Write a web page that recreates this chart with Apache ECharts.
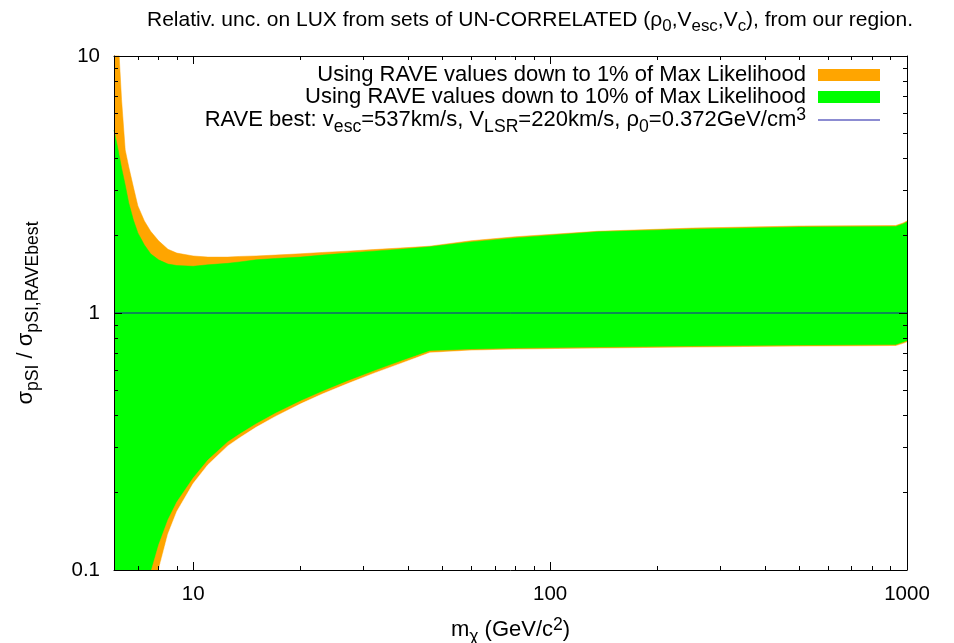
<!DOCTYPE html>
<html><head><meta charset="utf-8">
<script src="https://cdn.jsdelivr.net/npm/echarts@6/dist/echarts.min.js"></script>
<style>html,body{margin:0;padding:0;background:#fff}#c{width:954px;height:643px}</style>
</head><body><div id="c"></div>
<script>
// WIMP mass (GeV/c^2)
const mass = [6.0, 6.15, 6.3, 6.45, 6.6, 6.8, 7.0, 7.3, 7.6, 8.0, 8.5, 9.0, 10, 11, 12.5, 13.5, 15, 17, 20, 23, 27, 32, 38, 42, 46, 60, 80, 136, 250, 500, 930, 975, 1000];
// band edges: 1% of max likelihood (orange) and 10% (green)
const orangeUpper = [18, 12.5, 6.76, 4.31, 3.70, 3.09, 2.61, 2.28, 2.08, 1.91, 1.77, 1.71, 1.667, 1.65, 1.65, 1.66, 1.667, 1.68, 1.70, 1.72, 1.74, 1.765, 1.79, 1.805, 1.82, 1.91, 1.98, 2.08, 2.14, 2.18, 2.19, 2.24, 2.28];
const greenUpper = [5.15, 4.38, 3.67, 3.15, 2.68, 2.30, 2.05, 1.84, 1.70, 1.61, 1.55, 1.53, 1.52, 1.54, 1.56, 1.58, 1.61, 1.63, 1.65, 1.68, 1.71, 1.74, 1.77, 1.79, 1.81, 1.89, 1.96, 2.07, 2.12, 2.16, 2.17, 2.22, 2.26];
const greenLower = [0.0146, 0.018, 0.023, 0.028, 0.034, 0.044, 0.0554, 0.0743, 0.0975, 0.125, 0.157, 0.184, 0.228, 0.268, 0.315, 0.338, 0.370, 0.407, 0.4545, 0.495, 0.542, 0.594, 0.648, 0.680, 0.711, 0.721, 0.728, 0.734, 0.741, 0.747, 0.751, 0.768, 0.778];
const orangeLower = [0.010, 0.0126, 0.016, 0.0196, 0.0238, 0.031, 0.039, 0.052, 0.076, 0.100, 0.138, 0.169, 0.217, 0.257, 0.304, 0.327, 0.359, 0.396, 0.443, 0.484, 0.530, 0.582, 0.635, 0.668, 0.700, 0.714, 0.721, 0.727, 0.734, 0.740, 0.744, 0.760, 0.770];
// best-fit reference line
const bestMass = [6, 1000];
const bestRatio = [1, 1];
// ticks
const xMajorTicks = [10, 100, 1000];
const xMinorTicks = [7, 8, 9, 20, 30, 40, 50, 60, 70, 80, 90, 200, 300, 400, 500, 600, 700, 800, 900];
const yMajorTicks = [0.1, 1, 10];
const yMinorTicks = [0.2, 0.3, 0.4, 0.5, 0.6, 0.7, 0.8, 0.9, 2, 3, 4, 5, 6, 7, 8, 9];

const NAME1 = 'Using RAVE values down to 1% of Max Likelihood';
const NAME2 = 'Using RAVE values down to 10% of Max Likelihood';
const NAME3 = 'RAVE best';
const ORANGE = '#ffa500', GREEN = '#00ff00', BLUE = '#1a1aa6';
const FONT = 'Liberation Sans';
const FS = 22, SFS = 17.6, TFS = 20.5;

function zip(a, b) { return a.map((v, i) => [v, b[i]]); }

function rich(fs, sfs) {
  return {
    a: { fontSize: fs, fontFamily: FONT, fontWeight: 'normal', color: '#000', lineHeight: 28 },
    s: { fontSize: sfs, fontFamily: FONT, fontWeight: 'normal', color: '#000', lineHeight: 14, verticalAlign: 'top', padding: [12, 0, 0, 0] },
    p: { fontSize: sfs, fontFamily: FONT, fontWeight: 'normal', color: '#000', lineHeight: 18, verticalAlign: 'top' },
    g: { fontSize: fs, fontFamily: FONT, width: 7, lineHeight: 28 }
  };
}
const richBase = rich(FS, SFS);
const richTitle = rich(21, 16.9);

const GRID = { left: 114, right: 47, top: 56, bottom: 73, containLabel: false, outerBoundsMode: 'none' };

function xAxis(gridIndex, position, ticks, len, labels, extra) {
  return Object.assign({
    type: 'log', logBase: 10, min: 6, max: 1000, gridIndex, position, z: 10,
    axisLine: { show: true, lineStyle: { color: '#000', width: 1 } },
    axisTick: { show: true, inside: true, length: len, customValues: ticks, lineStyle: { color: '#000', width: 1 } },
    axisLabel: labels ? { show: true, customValues: ticks, margin: 14, fontSize: TFS, fontFamily: FONT, color: '#000',
      formatter: v => String(+v) } : { show: false },
    splitLine: { show: false }, minorTick: { show: false }
  }, extra || {});
}
function yAxis(gridIndex, position, ticks, len, labels, extra) {
  return Object.assign({
    type: 'log', logBase: 10, min: 0.1, max: 10, gridIndex, position, z: 10,
    axisLine: { show: true, lineStyle: { color: '#000', width: 1 } },
    axisTick: { show: true, inside: true, length: len, customValues: ticks, lineStyle: { color: '#000', width: 1 } },
    axisLabel: labels ? { show: true, customValues: ticks, margin: 14, fontSize: TFS, fontFamily: FONT, color: '#000',
      formatter: v => String(+(+v).toPrecision(3)) } : { show: false },
    splitLine: { show: false }, minorTick: { show: false }
  }, extra || {});
}

function legendAt(item, top, formatter) {
  return {
    data: [item], right: 74, top, orient: 'vertical', align: 'right', padding: 0,
    itemWidth: 62, itemHeight: 12, selectedMode: false,
    textStyle: { fontSize: FS, fontFamily: FONT, color: '#000', rich: richBase },
    formatter
  };
}

const chart = echarts.init(document.getElementById('c'), null, { renderer: 'canvas' });
chart.setOption({
  animation: false,
  backgroundColor: '#fff',
  title: {
    text: '{a|Relativ. unc. on LUX from sets of UN-CORRELATED (ρ}{s|0}{a|,V}{s|esc}{a|,V}{s|c}{a|), from our region.}',
    left: 147, top: 6, padding: 0,
    textStyle: { fontWeight: 'normal', rich: richTitle }
  },
  legend: [
    legendAt({ name: NAME1, icon: 'rect', itemStyle: { color: ORANGE } }, 64, n => '{a|' + n + '}{g| }'),
    legendAt({ name: NAME2, icon: 'rect', itemStyle: { color: GREEN } }, 86, n => '{a|' + n + '}{g| }'),
    legendAt({ name: NAME3, icon: 'path://M0,0L0,0M0,5.5L62,5.5L62,6.5L0,6.5ZM62,12L62,12', itemStyle: { color: BLUE, borderWidth: 0 } }, 106,
      () => '{a|RAVE best: v}{s|esc}{a|=537km/s, V}{s|LSR}{a|=220km/s, ρ}{s|0}{a|=0.372GeV/cm}{p|3}{g| }')
  ],
  grid: [Object.assign({}, GRID), Object.assign({}, GRID)],
  xAxis: [
    xAxis(0, 'bottom', xMajorTicks, 8, true, {
      name: '{a|m}{s|χ}{a| (GeV/c}{p|2}{a|)}', nameLocation: 'middle', nameGap: 46,
      nameTextStyle: { rich: richBase }
    }),
    xAxis(0, 'top', xMajorTicks, 8, false),
    xAxis(1, 'bottom', xMinorTicks, 4, false, { axisLine: { show: false } }),
    xAxis(1, 'top', xMinorTicks, 4, false, { axisLine: { show: false } })
  ],
  yAxis: [
    yAxis(0, 'left', yMajorTicks, 8, true, {
      name: '{a|σ}{s|pSI}{a| / σ}{s|pSI,RAVEbest}', nameLocation: 'middle', nameGap: 74, nameRotate: 90,
      nameTextStyle: { rich: richBase }
    }),
    yAxis(0, 'right', yMajorTicks, 8, false),
    yAxis(1, 'left', yMinorTicks, 4, false, { axisLine: { show: false } }),
    yAxis(1, 'right', yMinorTicks, 4, false, { axisLine: { show: false } })
  ],
  series: [
    { name: NAME1, type: 'line', xAxisIndex: 0, yAxisIndex: 0, data: zip(mass, orangeUpper), symbol: 'none',
      color: ORANGE, itemStyle: { color: ORANGE }, lineStyle: { width: 0.5, color: ORANGE }, areaStyle: { color: ORANGE, opacity: 1, origin: 'start' }, clip: true, z: 2 },
    { name: NAME2, type: 'line', xAxisIndex: 0, yAxisIndex: 0, data: zip(mass, greenUpper), symbol: 'none',
      color: GREEN, itemStyle: { color: GREEN }, lineStyle: { width: 0.5, color: GREEN }, areaStyle: { color: GREEN, opacity: 1, origin: 'start' }, clip: true, z: 2 },
    { name: NAME1, type: 'line', xAxisIndex: 0, yAxisIndex: 0, data: zip(mass, greenLower), symbol: 'none',
      color: ORANGE, itemStyle: { color: ORANGE }, lineStyle: { width: 0.5, color: ORANGE }, areaStyle: { color: ORANGE, opacity: 1, origin: 'start' }, clip: true, z: 2 },
    { name: 'cut', type: 'line', xAxisIndex: 0, yAxisIndex: 0, data: zip(mass, orangeLower), symbol: 'none',
      color: '#fff', lineStyle: { width: 0.5, color: '#fff' }, areaStyle: { color: '#fff', opacity: 1, origin: 'start' }, clip: true, z: 2 },
    { name: NAME3, type: 'line', xAxisIndex: 0, yAxisIndex: 0, data: zip(bestMass, bestRatio), symbol: 'none',
      color: BLUE, itemStyle: { color: BLUE }, lineStyle: { width: 1, color: BLUE }, clip: true, z: 3 }
  ]
});
</script></body></html>
